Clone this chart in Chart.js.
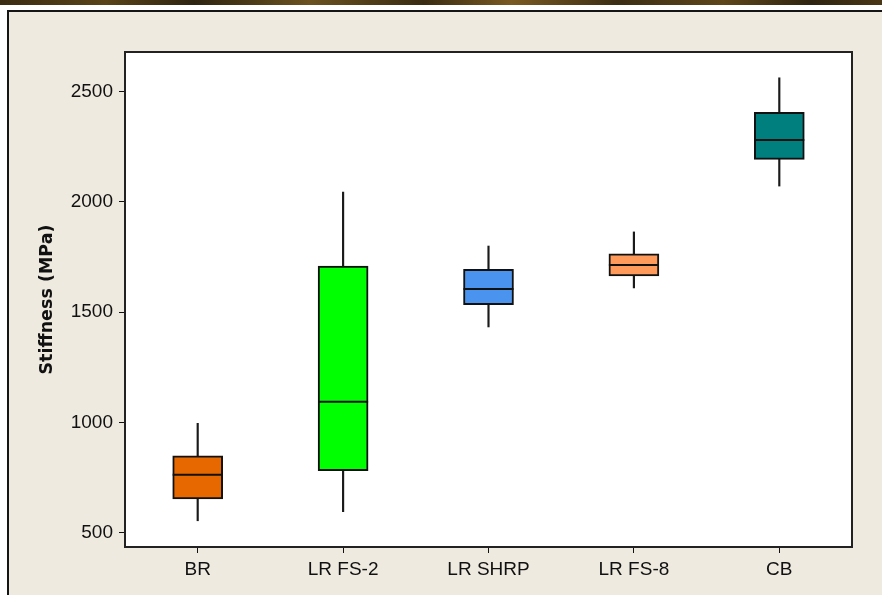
<!DOCTYPE html>
<html>
<head>
<meta charset="utf-8">
<script src="https://cdn.jsdelivr.net/npm/chart.js@4/dist/chart.umd.min.js"></script>
<style>
  html, body { margin: 0; padding: 0; background: #ffffff; }
  body { width: 882px; height: 595px; position: relative; overflow: hidden; }
  #strip {
    position: absolute; left: 0; top: 0; width: 882px; height: 5px;
    background: linear-gradient(90deg, #3b2c12 0%, #5a4418 12%, #2e2410 22%, #6b5220 35%, #3a2c12 48%, #7a5a22 58%, #3c2e14 70%, #5e461a 82%, #2f2410 92%, #4a3716 100%);
  }
  #panel {
    position: absolute; left: 7px; top: 10px; width: 875px; height: 585px;
    background: #eeeae0; border-top: 2px solid #151515; border-left: 2px solid #151515;
    box-sizing: border-box;
  }
  #wrap { position: absolute; left: 0; top: 0; width: 882px; height: 595px; }
</style>
</head>
<body>
<div id="strip"></div>
<div id="panel"></div>
<div id="wrap"><canvas id="c" width="882" height="595"></canvas></div>
<script>
// Stiffness distribution per mixture (MPa)
const categories = ['BR', 'LR FS-2', 'LR SHRP', 'LR FS-8', 'CB'];
const whiskerMin = [554, 595, 1433, 1610, 2072];
const quartile1  = [653, 781, 1534, 1665, 2193];
const medians    = [763, 1094, 1605, 1714, 2281];
const quartile3  = [849, 1709, 1694, 1765, 2406];
const whiskerMax = [996, 2045, 1800, 1864, 2563];
const boxColors  = ['#e86800', '#00ff00', '#4a94f0', '#ff9a5a', '#007f7f'];
const yTicks     = [500, 1000, 1500, 2000, 2500];

const TICK_FONT = '"Liberation Sans", Arial, sans-serif';
const TITLE_FONT = '"DejaVu Sans", sans-serif';
const INK = '#111111';

// White plotting area with a dark frame around it
const frame = {
  id: 'frame',
  beforeDraw(chart) {
    const a = chart.chartArea, ctx = chart.ctx;
    ctx.save();
    ctx.fillStyle = '#ffffff';
    ctx.fillRect(a.left, a.top, a.right - a.left, a.bottom - a.top);
    ctx.restore();
  },
  afterDraw(chart) {
    const a = chart.chartArea, ctx = chart.ctx;
    ctx.save();
    ctx.strokeStyle = '#222222';
    ctx.lineWidth = 2;
    ctx.strokeRect(a.left, a.top, a.right - a.left, a.bottom - a.top);
    ctx.restore();
  }
};

// Median line across each box
const medianLines = {
  id: 'medianLines',
  afterDatasetsDraw(chart) {
    const meta = chart.getDatasetMeta(0);
    const y = chart.scales.y, ctx = chart.ctx;
    ctx.save();
    ctx.strokeStyle = INK;
    ctx.lineWidth = 2;
    meta.data.forEach((bar, i) => {
      const w = bar.width, py = y.getPixelForValue(medians[i]);
      ctx.beginPath();
      ctx.moveTo(bar.x - w / 2, py);
      ctx.lineTo(bar.x + w / 2, py);
      ctx.stroke();
    });
    ctx.restore();
  }
};

new Chart(document.getElementById('c'), {
  type: 'bar',
  data: {
    labels: categories,
    datasets: [
      {
        label: 'IQR',
        data: categories.map((_, i) => [quartile1[i], quartile3[i]]),
        backgroundColor: boxColors,
        borderColor: INK,
        borderWidth: 2,
        borderSkipped: false,
        barThickness: 50,
        grouped: false,
        order: 0
      },
      {
        label: 'Range',
        data: categories.map((_, i) => [whiskerMin[i], whiskerMax[i]]),
        backgroundColor: '#1a1a1a',
        borderWidth: 0,
        barThickness: 1.5,
        grouped: false,
        order: 1
      }
    ]
  },
  options: {
    responsive: false,
    animation: false,
    events: [],
    layout: { padding: { left: 0, top: 52, right: 30, bottom: 0 } },
    plugins: { legend: { display: false }, tooltip: { enabled: false } },
    scales: {
      x: {
        offset: true,
        grid: { display: true, drawOnChartArea: false, tickLength: 6, color: INK, lineWidth: 1, offset: false },
        border: { display: true, color: '#222222', width: 2 },
        ticks: { color: INK, font: { family: TICK_FONT, size: 19 }, padding: 5, maxRotation: 0 },
        afterFit(scale) { scale.height = 48; }
      },
      y: {
        min: 435,
        max: 2680,
        afterBuildTicks(scale) { scale.ticks = yTicks.map(v => ({ value: v })); },
        grid: { display: true, drawOnChartArea: false, tickLength: 6, color: INK, lineWidth: 1 },
        border: { display: true, color: '#222222', width: 2 },
        ticks: { color: INK, font: { family: TICK_FONT, size: 19 }, padding: 6, callback: v => String(v) },
        title: {
          display: true,
          text: 'Stiffness (MPa)',
          color: INK,
          font: { family: TITLE_FONT, size: 17.5, weight: 'bold' },
          padding: { top: 37, bottom: 0 }
        },
        afterFit(scale) { scale.width = 125; }
      }
    }
  },
  plugins: [frame, medianLines]
});
</script>
</body>
</html>
